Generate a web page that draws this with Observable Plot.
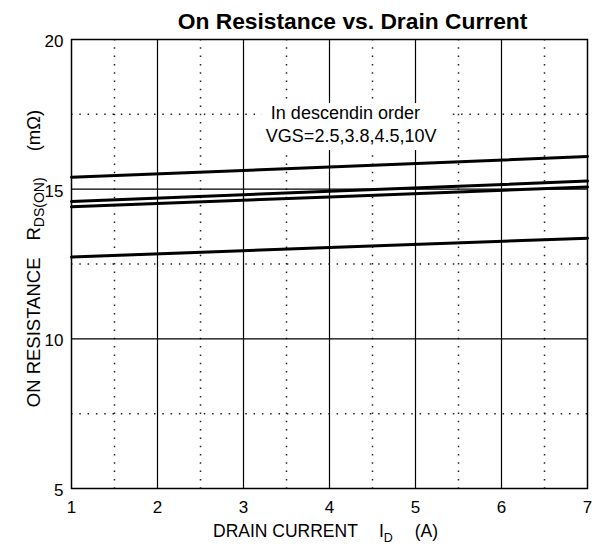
<!DOCTYPE html>
<html><head><meta charset="utf-8">
<script src="https://cdn.jsdelivr.net/npm/d3@7"></script>
<script src="https://cdn.jsdelivr.net/npm/@observablehq/plot@0.6"></script>
<style>html,body{margin:0;padding:0;background:#fff;}</style>
</head><body><div id="chart"></div>
<script>
const title = "On Resistance vs. Drain Current";
const drainCurrent = [1, 4, 7];
const vgsLabels = ["2.5", "3.8", "4.5", "10"];
const rdsVgs25 = [15.40, 15.74, 16.09];
const rdsVgs38 = [14.59, 14.93, 15.27];
const rdsVgs45 = [14.41, 14.74, 15.07];
const rdsVgs10 = [12.73, 13.05, 13.36];
const xTicks = [1, 2, 3, 4, 5, 6, 7];
const yTicks = [5, 10, 15, 20];
const xMajorGrid = [2, 3, 4, 5, 6];
const xMinorGrid = [1.5, 2.5, 3.5, 4.5, 5.5, 6.5];
const yMajorGrid = [10, 15];
const yMinorGrid = [7.5, 12.5, 17.5];
const noteLines = ["In descendin order", "VGS=2.5,3.8,4.5,10V"];
const xLabelParts = ["DRAIN CURRENT", "I", "D", "(A)"];
const yLabelParts = ["ON RESISTANCE", "R", "DS(ON)", "(mΩ)"];

const noteBox = {x1: 3.22, x2: 5.43, y1: 16.29, y2: 17.86};
const noteAt = {x: 3.26, y1: 17.33, y2: 16.57};

const series = [rdsVgs25, rdsVgs38, rdsVgs45, rdsVgs10];
const data = series.flatMap((vals, i) =>
  vals.map((r, j) => ({vgs: vgsLabels[i], id: drainCurrent[j], rds: r})));

const font = "'Liberation Sans', Arial, Helvetica, sans-serif";

const plot = Plot.plot({
  width: 596,
  height: 547,
  marginLeft: 71,
  marginRight: 9,
  marginTop: 39,
  marginBottom: 59,
  style: {fontFamily: font, fontSize: "17px", background: "white", color: "black"},
  x: {domain: [1, 7]},
  y: {domain: [5, 20]},
  marks: [
    Plot.ruleX(xMinorGrid, {stroke: "#222", strokeWidth: 1.5, strokeDasharray: "1.5,6.8"}),
    Plot.ruleY(yMinorGrid, {stroke: "#222", strokeWidth: 1.5, strokeDasharray: "1.5,6.8"}),
    Plot.ruleX(xMajorGrid, {stroke: "black", strokeWidth: 1.2}),
    Plot.ruleY(yMajorGrid, {stroke: "black", strokeWidth: 1.2}),
    Plot.rect([noteBox], {x1: "x1", x2: "x2", y1: "y1", y2: "y2", fill: "white"}),
    Plot.text([noteLines[0]], {x: () => noteAt.x, y: () => noteAt.y1, text: d => d, textAnchor: "start", lineAnchor: "bottom", dx: 5, fontSize: 18, fill: "black"}),
    Plot.text([noteLines[1]], {x: () => noteAt.x, y: () => noteAt.y2, text: d => d, textAnchor: "start", lineAnchor: "bottom", fontSize: 18, fill: "black"}),
    Plot.line(data, {x: "id", y: "rds", z: "vgs", stroke: "black", strokeWidth: 3}),
    Plot.frame({stroke: "black", strokeWidth: 1.5}),
    Plot.axisX({ticks: xTicks, tickSize: 0, tickPadding: 12, label: null, tickFormat: d => String(d), fontSize: 17}),
    Plot.axisY({ticks: yTicks, tickSize: 0, tickPadding: 8, label: null, dy: 2, tickFormat: d => String(d), fontSize: 17}),
    Plot.text([title], {frameAnchor: "top", dx: 23, dy: -11, lineAnchor: "bottom", fontSize: 22.8, fontWeight: "bold", fill: "black"})
  ]
});

const svg = d3.select(plot);
const yl = svg.append("text")
  .attr("transform", "translate(40,258.5) rotate(-90)")
  .attr("text-anchor", "middle")
  .attr("font-size", 18.5).attr("fill", "black").attr("font-family", font);
yl.append("tspan").text(yLabelParts[0]);
yl.append("tspan").attr("dx", 17).text(yLabelParts[1]);
yl.append("tspan").attr("dy", 4).attr("font-size", 14).text(yLabelParts[2]);
yl.append("tspan").attr("dy", -4).attr("dx", 26).text(yLabelParts[3]);

const xl = svg.append("text")
  .attr("x", 213).attr("y", 537)
  .attr("text-anchor", "start")
  .attr("font-size", 17.5).attr("fill", "black").attr("font-family", font);
xl.append("tspan").text(xLabelParts[0]);
xl.append("tspan").attr("dx", 21).text(xLabelParts[1]);
xl.append("tspan").attr("dy", 5).attr("font-size", 12.5).text(xLabelParts[2]);
xl.append("tspan").attr("dy", -5).attr("dx", 22).text(xLabelParts[3]);

document.getElementById("chart").appendChild(plot);
</script>
</body></html>
